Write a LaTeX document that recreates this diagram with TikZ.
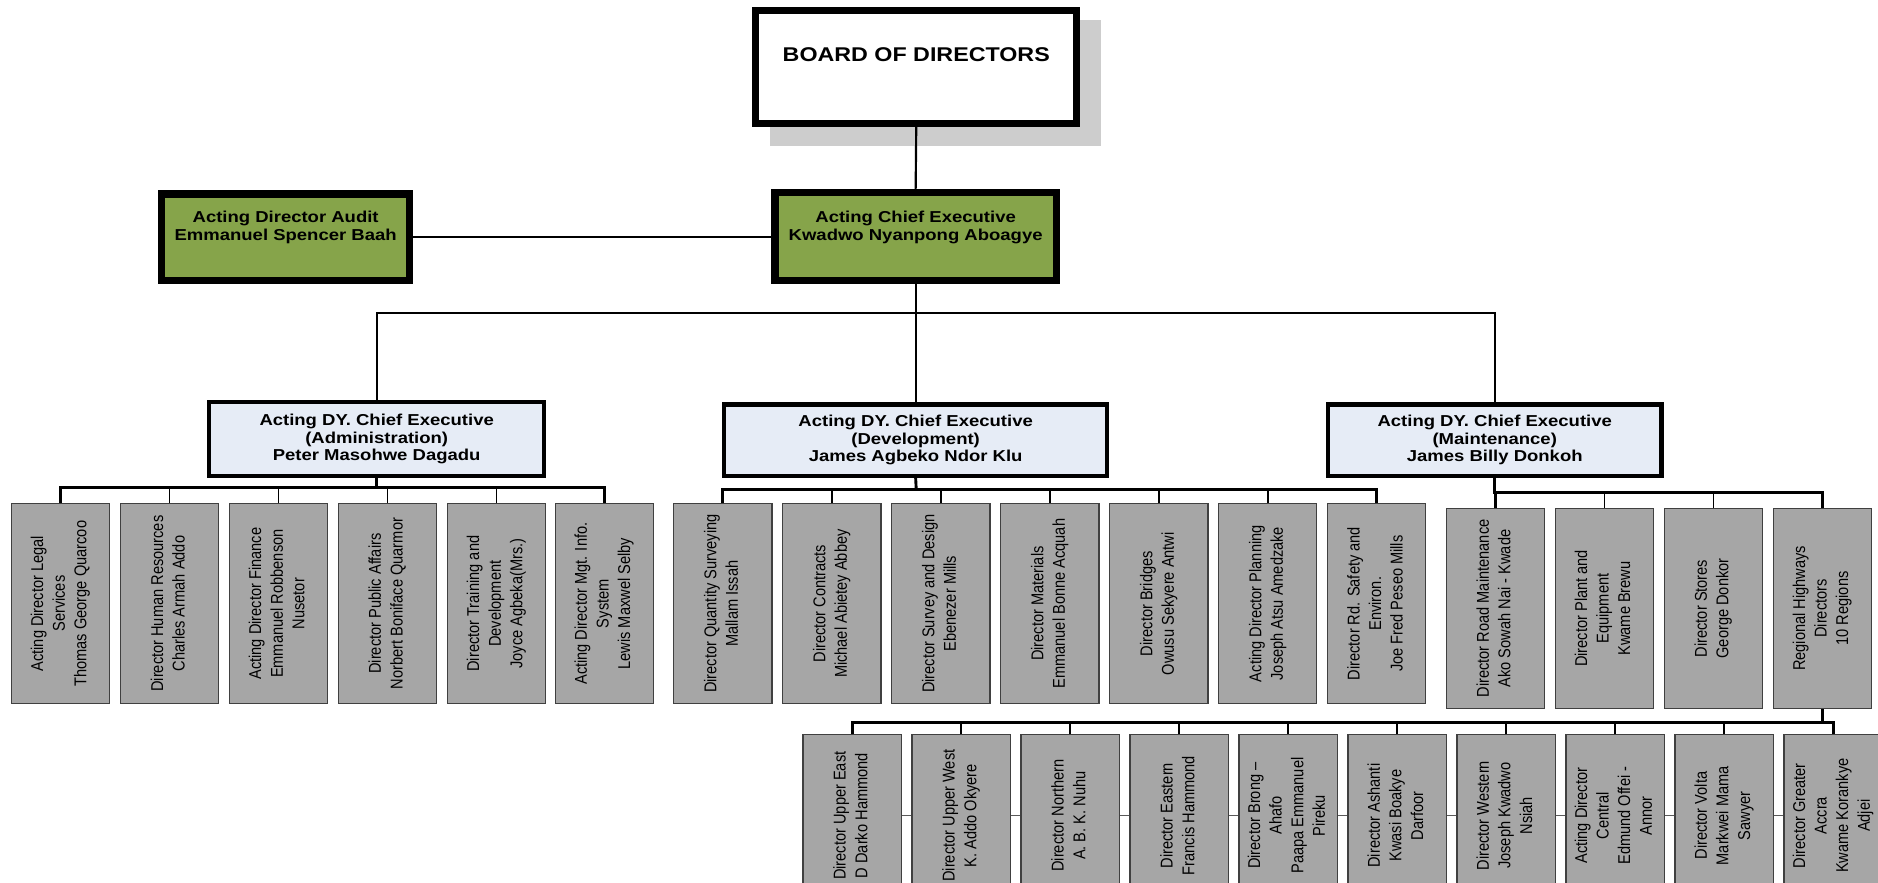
\documentclass[tikz,border=0pt]{standalone}
\usepackage{fontspec}
\setmainfont{Liberation Sans}
\newfontfamily\headfont[FakeStretch=1.17]{Liberation Sans}
\usetikzlibrary{backgrounds}

\definecolor{greenfill}{HTML}{86A44A}
\definecolor{bluefill}{HTML}{E6ECF6}
\definecolor{greyfill}{HTML}{A6A6A6}
\definecolor{greyline}{HTML}{404040}
\definecolor{shadowgrey}{HTML}{CDCDCD}
\definecolor{rowline}{HTML}{595959}

% vertical (bottom-to-top) multi-line label, slightly widened glyphs
\newcommand{\rotlabel}[1]{\rotatebox{90}{\scalebox{1}[1.17]{\begin{tabular}{@{}c@{}}#1\end{tabular}}}}

\tikzset{
  boardbox/.style={draw, line width=6, fill=white, inner sep=0, minimum width=268, minimum height=94},
  execbox/.style={draw, line width=6, fill=greenfill, inner sep=0},
  execlabel/.style={align=center, font=\headfont\bfseries\fontsize{13.2}{15}\selectfont},
  deputybox/.style={draw, line width=3.5, fill=bluefill, inner sep=0, align=center,
    font=\headfont\bfseries\fontsize{13.2}{14.5}\selectfont},
  unitbox/.style={draw=greyline, line width=1, fill=greyfill, inner sep=0,
    minimum width=82, minimum height=167, font=\fontsize{12.2}{15.4}\selectfont},
  regionbox/.style={unitbox, minimum height=135},
  conn/.style={line width=1.8},
  bar/.style={line width=2.4},
  tick/.style={line width=1.2},
}

\begin{document}
\begin{tikzpicture}[x=1pt, y=-1pt]
\clip (0,0) rectangle (1568,737);

% ---- top management ----
\node[boardbox, label={[yshift=10pt, font=\headfont\bfseries\fontsize{16.6}{19}\selectfont]center:BOARD OF DIRECTORS}] (board) at (765,56) {};
\node[execbox, minimum width=235, minimum height=73,
  label={[execlabel, yshift=8pt]center:Acting Chief Executive\\Kwadwo Nyanpong Aboagye}] (ceo) at (764.5,197.5) {};
\node[execbox, minimum width=207, minimum height=72,
  label={[execlabel, yshift=8pt]center:Acting Director Audit\\Emmanuel Spencer Baah}] (audit) at (238.5,198) {};

% ---- deputy chief executives ----
\node[deputybox, minimum width=279.5, minimum height=61.5] (admin) at (314.5,366.5)
  {Acting DY. Chief Executive\\(Administration)\\Peter Masohwe Dagadu};
\node[deputybox, minimum width=319.5, minimum height=59.5] (dev) at (764.5,367.5)
  {Acting DY. Chief Executive\\(Development)\\James Agbeko Ndor Klu};
\node[deputybox, minimum width=278.5, minimum height=59.5] (maint) at (1248,367.5)
  {Acting DY. Chief Executive\\(Maintenance)\\James Billy Donkoh};

% ---- administration directorates ----
\node[unitbox] (a1) at (50.5,504) {\rotlabel{Acting Director Legal\\Services\\Thomas George Quarcoo}};
\node[unitbox] (a2) at (141.5,504) {\rotlabel{Director Human Resources\\Charles Armah Addo}};
\node[unitbox] (a3) at (232.5,504) {\rotlabel{Acting Director Finance\\Emmanuel Robbenson\\Nusetor}};
\node[unitbox] (a4) at (323.5,504) {\rotlabel{Director Public Affairs\\Norbert Boniface Quarmor}};
\node[unitbox] (a5) at (414.5,504) {\rotlabel{Director Training and\\Development\\Joyce Agbeka(Mrs.)}};
\node[unitbox] (a6) at (504.5,504) {\rotlabel{Acting Director Mgt. Info.\\System\\Lewis Maxwel Selby}};

% ---- development directorates ----
\node[unitbox] (d1) at (603.5,504) {\rotlabel{Director Quantity Surveying\\Mallam Issah}};
\node[unitbox] (d2) at (694.5,504) {\rotlabel{Director Contracts\\Michael Abietey Abbey}};
\node[unitbox] (d3) at (785.5,504) {\rotlabel{Director Survey and Design\\Ebenezer Mills}};
\node[unitbox] (d4) at (876.5,504) {\rotlabel{Director Materials\\Emmanuel Bonne Acquah}};
\node[unitbox] (d5) at (967.5,504) {\rotlabel{Director Bridges\\Owusu Sekyere Antwi}};
\node[unitbox] (d6) at (1058.5,504) {\rotlabel{Acting Director Planning\\Joseph Atsu Amedzake}};
\node[unitbox] (d7) at (1149.5,504) {\rotlabel{Director Rd. Safety and\\Environ.\\Joe Fred Peseo Mills}};

% ---- maintenance directorates ----
\node[unitbox] (g1) at (1248.5,508) {\rotlabel{Director Road Maintenance\\Ako Sowah Nai - Kwade}};
\node[unitbox] (g2) at (1339.5,508) {\rotlabel{Director Plant and\\Equipment\\Kwame Brewu}};
\node[unitbox] (g3) at (1430.5,508) {\rotlabel{Director Stores\\George Donkor}};
\node[unitbox] (g4) at (1521.5,508) {\rotlabel{Regional Highways\\Directors\\10 Regions}};

% ---- regional directors ----
\node[regionbox] (r1) at (711.5,681) {\rotlabel{Director Upper East\\D Darko Hammond}};
\node[regionbox] (r2) at (802.5,681) {\rotlabel{Director Upper West\\K. Addo Okyere}};
\node[regionbox] (r3) at (893.5,681) {\rotlabel{Director Northern\\A. B. K. Nuhu}};
\node[regionbox] (r4) at (984.5,681) {\rotlabel{Director Eastern\\Francis Hammond}};
\node[regionbox] (r5) at (1075.5,681) {\rotlabel{Director Brong –\\Ahafo\\Paapa Emmanuel\\Pireku}};
\node[regionbox] (r6) at (1166.5,681) {\rotlabel{Director Ashanti\\Kwasi Boakye\\Darfoor}};
\node[regionbox] (r7) at (1257.5,681) {\rotlabel{Director Western\\Joseph Kwadwo\\Nsiah}};
\node[regionbox] (r8) at (1348.5,681) {\rotlabel{Acting Director\\Central\\Edmund Offei -\\Annor}};
\node[regionbox] (r9) at (1439.5,681) {\rotlabel{Director Volta\\Markwei Mama\\Sawyer}};
\node[regionbox] (r10) at (1530.5,681) {\rotlabel{Director Greater\\Accra\\Kwame Korankye\\Adjei}};

% page background, board shadow and the thin line behind the regional row
\begin{scope}[on background layer]
  \fill[white] (0,0) rectangle (1568,737);
  \fill[shadowgrey] ([shift={(15,11)}]board.north west) rectangle ([shift={(17,16)}]board.south east);
  \draw[rowline, line width=1] (r1.center) -- (r10.center);
\end{scope}

% ---- connectors ----
\coordinate (cbar) at (765,261);
\coordinate (abar) at (314.5,407);
\coordinate (dbar) at (765,409);
\coordinate (mbar) at (1248,411);
\coordinate (rbar) at (1521.5,603);

\draw[conn] (board.south) -- (ceo.north);
\draw[conn] (audit.east) -- (audit.east -| ceo.west);
\draw[conn] (ceo.south) -- (dev.north);
\draw[conn] (admin.north) |- (cbar) -| (maint.north);

\draw[bar] (admin.south) -- (abar);
\draw[bar] (a1.north) |- (abar) -| (a6.north);
\foreach \n in {a2,a3,a4,a5} \draw[tick] (\n.north) -- (\n.north |- abar);

\draw[bar] (dev.south) -- (dbar);
\draw[bar] (d1.north) |- (dbar) -| (d7.north);
\foreach \n in {d2,d3,d4,d5,d6} \draw[tick] (\n.north) -- (\n.north |- dbar);

\draw[bar] (maint.south) -- (mbar) -| (g4.north);
\draw[bar] (g1.north) -- (g1.north |- mbar);
\foreach \n in {g2,g3} \draw[tick] (\n.north) -- (\n.north |- mbar);

\draw[bar] (g4.south) -- (rbar);
\draw[bar] (r1.north) |- (rbar) -| (r10.north);
\foreach \n in {r2,r3,r4,r5,r6,r7,r8,r9} \draw[tick] (\n.north) -- (\n.north |- rbar);
\end{tikzpicture}
\end{document}
